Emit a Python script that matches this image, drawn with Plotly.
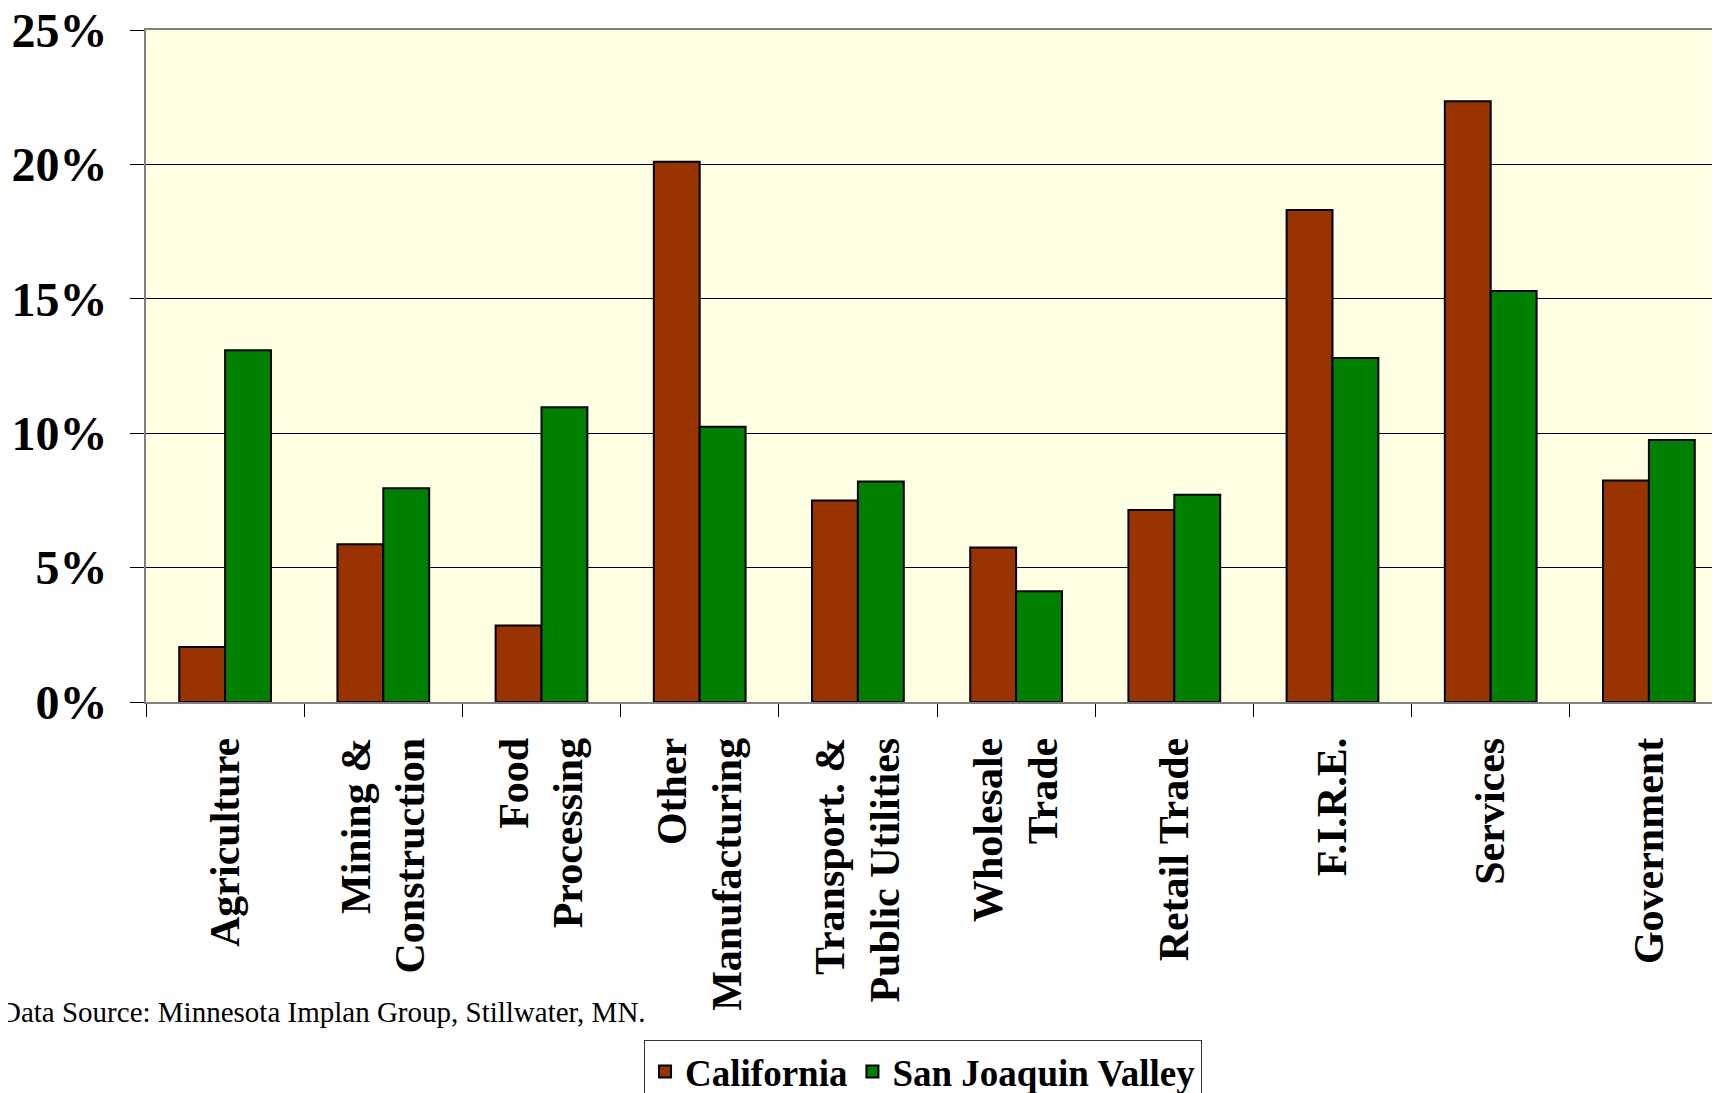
import plotly.graph_objects as go

categories = ["Agriculture", "Mining &<br>Construction", "Food<br>Processing",
              "Other<br>Manufacturing", "Transport. &<br>Public Utilities",
              "Wholesale<br>Trade", "Retail Trade", "F.I.R.E.", "Services", "Government"]
california = [2.05, 5.87, 2.85, 20.1, 7.5, 5.75, 7.14, 18.3, 22.35, 8.24]
san_joaquin = [13.09, 7.95, 10.97, 10.24, 8.2, 4.12, 7.71, 12.8, 15.29, 9.75]
y_ticks = [0, 5, 10, 15, 20, 25]
y_tick_labels = ["0%", "5%", "10%", "15%", "20%", "25%"]
source_text = "Data Source: Minnesota Implan Group, Stillwater, MN."

serif = "Liberation Serif"

fig = go.Figure()
fig.add_trace(go.Bar(name="California", x=categories, y=california,
                     marker=dict(color="#993300", line=dict(color="black", width=2))))
fig.add_trace(go.Bar(name="San Joaquin Valley", x=categories, y=san_joaquin,
                     marker=dict(color="#008000", line=dict(color="black", width=2))))

fig.update_layout(
    width=1720, height=1093,
    margin=dict(l=138, r=0, t=22, b=399, autoexpand=False),
    paper_bgcolor="white",
    plot_bgcolor="#FFFFE4",
    barmode="group", bargap=0.42, bargroupgap=0,
    font=dict(family=serif, color="black"),
    legend=dict(orientation="h", xref="container", yref="container",
                x=0.532, xanchor="center", y=0.0265, yanchor="middle",
                font=dict(family=serif, size=37, weight="bold", color="black"),
                bgcolor="white", bordercolor="#333333", borderwidth=1,
                itemwidth=30, tracegroupgap=0),
    annotations=[dict(text=source_text, xref="paper", yref="paper",
                      x=-0.0934, y=-0.462, xanchor="left", yanchor="middle",
                      showarrow=False, font=dict(family=serif, size=29, color="black"))],
)

fig.update_xaxes(
    type="category",
    range=[-0.5, 9.5],
    automargin=False,
    tickangle=-90,
    tickson="boundaries",
    ticks="outside", ticklen=13, tickcolor="black", tickwidth=1,
    showline=True, linecolor="#808080", linewidth=2, mirror=True,
    showgrid=False,
    ticklabelstandoff=17,
    ticklabeloverflow="allow",
    tickfont=dict(family=serif, size=42, weight="bold", color="black"),
)

fig.update_yaxes(
    range=[0, 25],
    automargin=False,
    tickmode="array",
    tickvals=y_ticks,
    ticktext=y_tick_labels,
    ticks="outside", ticklen=14, tickcolor="black", tickwidth=1,
    showline=True, linecolor="#808080", linewidth=2,
    showgrid=True, gridcolor="black", gridwidth=1,
    zeroline=False,
    ticklabelstandoff=13,
    ticklabeloverflow="allow",
    tickfont=dict(family=serif, size=48, weight="bold", color="black"),
)

fig.write_html("out.html")
